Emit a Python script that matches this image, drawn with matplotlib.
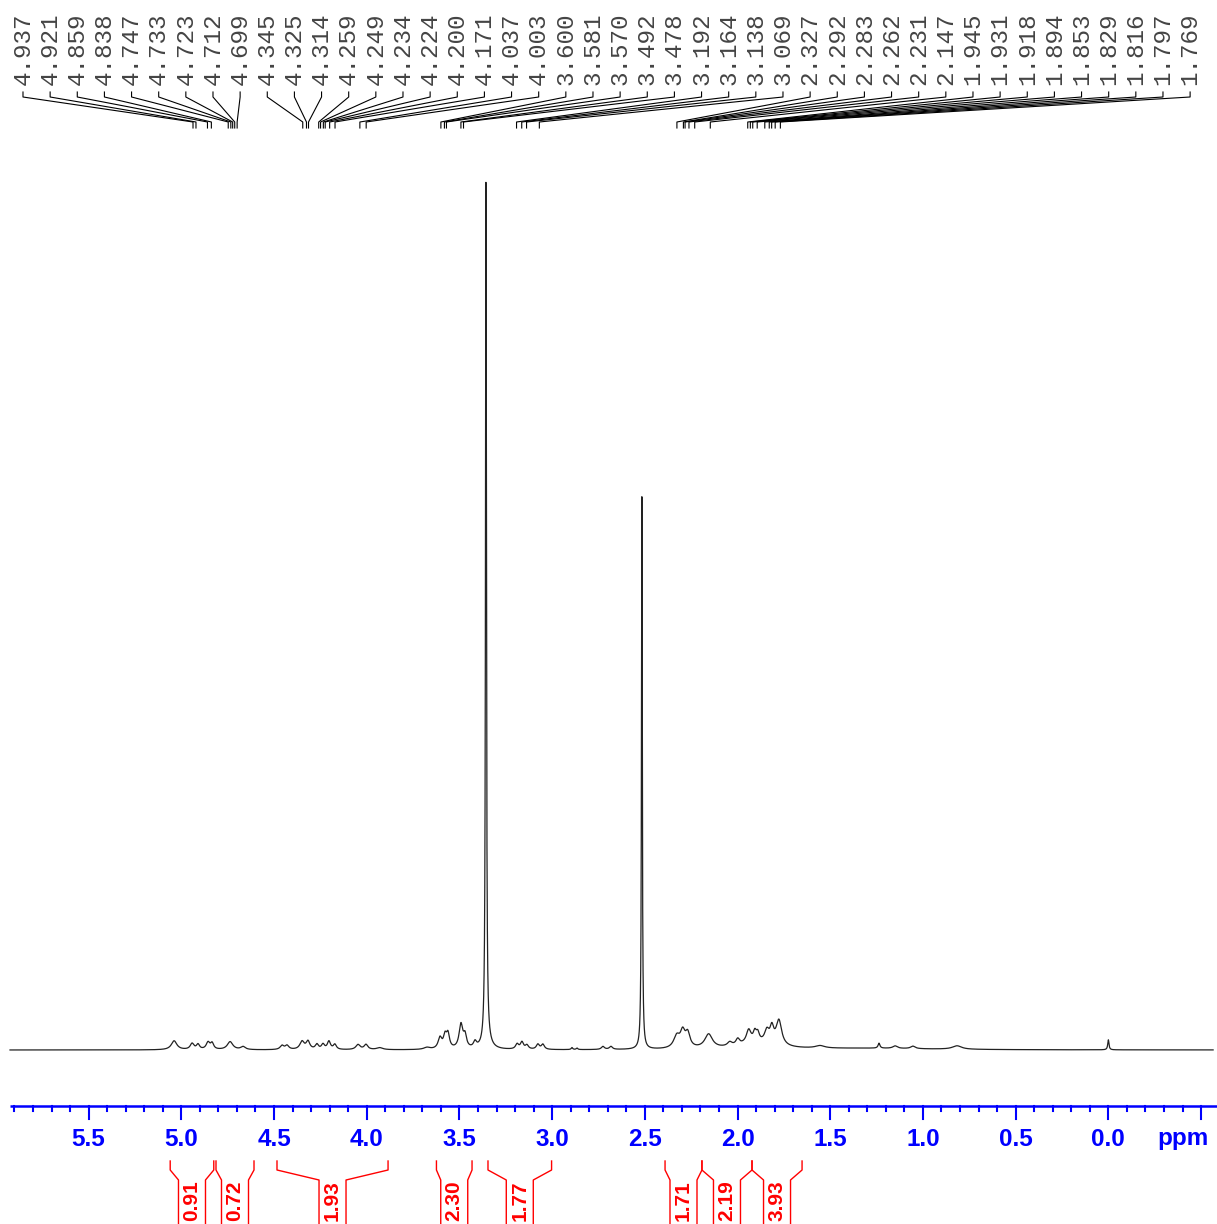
import numpy as np
import matplotlib
matplotlib.use('Agg')
import matplotlib.pyplot as plt

# 1H spectrum: shift (ppm), height (px above baseline), half width (ppm)
peak_shift = [3.357, 3.350, 2.516, 0.000,
              5.039, 4.942, 4.910, 4.856, 4.834, 4.737, 4.667,
              4.457, 4.430, 4.349, 4.317, 4.269, 4.236, 4.204, 4.172,
              4.047, 4.004, 3.930, 3.675, 3.605, 3.578, 3.562, 3.492,
              3.470, 3.416, 3.189, 3.163, 3.136, 3.077, 3.050, 2.893,
              2.866, 2.726, 2.683, 2.328, 2.296, 2.269, 2.156, 2.042,
              1.999, 1.940, 1.907, 1.891, 1.842, 1.815, 1.777, 1.900,
              1.555, 1.237, 1.150, 1.054, 0.816, 1.300]
peak_height = [862, 6, 553, 10,
               9, 6, 5, 7, 6, 8, 3,
               4, 4, 8, 8, 5, 5, 8, 5,
               5, 5, 2, 2, 11, 12, 14, 24,
               12, 6, 5, 7, 4, 5, 5, 2,
               1.5, 3, 3, 12, 15, 14, 14, 4,
               6, 13, 9, 8, 12, 15, 25, 6,
               2.5, 5, 2.5, 2.5, 3.5, 1.5]
peak_width = [0.003, 0.025, 0.0026, 0.004,
              0.018, 0.012, 0.010, 0.012, 0.010, 0.018, 0.015,
              0.012, 0.012, 0.014, 0.012, 0.010, 0.010, 0.010, 0.010,
              0.014, 0.012, 0.020, 0.020, 0.012, 0.010, 0.010, 0.012,
              0.010, 0.010, 0.010, 0.010, 0.010, 0.010, 0.010, 0.005,
              0.005, 0.010, 0.010, 0.020, 0.015, 0.015, 0.025, 0.015,
              0.012, 0.015, 0.010, 0.010, 0.015, 0.012, 0.018, 0.120,
              0.030, 0.006, 0.015, 0.015, 0.030, 0.400]

# picked peaks printed across the top
pick_ppm = [4.937, 4.921, 4.859, 4.838, 4.747, 4.733, 4.723, 4.712, 4.699,
            4.345, 4.325, 4.314, 4.259, 4.249, 4.234, 4.224, 4.200, 4.171,
            4.037, 4.003, 3.600, 3.581, 3.570, 3.492, 3.478, 3.192, 3.164,
            3.138, 3.069, 2.327, 2.292, 2.283, 2.262, 2.231, 2.147, 1.945,
            1.931, 1.918, 1.894, 1.853, 1.829, 1.816, 1.797, 1.769]

# integral regions
int_start = [5.060, 4.813, 4.484, 3.624, 3.346, 2.391, 2.192, 1.922]
int_end = [4.825, 4.608, 3.885, 3.432, 3.003, 2.192, 1.922, 1.652]
int_value = ['0.91', '0.72', '1.93', '2.30', '1.77', '1.71', '2.19', '3.93']

tick_labels = ['5.5', '5.0', '4.5', '4.0', '3.5', '3.0', '2.5', '2.0', '1.5', '1.0', '0.5', '0.0']

BLUE = '#0000ff'
RED = '#ff0000'


def spectrum(ppm):
    y = np.zeros_like(ppm)
    for s, h, w in zip(peak_shift, peak_height, peak_width):
        y += h * w ** 2 / (w ** 2 + (ppm - s) ** 2)
    return y


fig = plt.figure(figsize=(12.17, 12.24), dpi=100)
ax = fig.add_axes([0, 0, 1, 1])
ax.set_xlim(5.978, -0.586)
ax.set_ylim(-174, 1050)
ax.axis('off')

# spectrum trace
ppm = np.linspace(5.924, -0.565, 30000)
ax.plot(ppm, spectrum(ppm), color='#222222', lw=0.9)

# ppm axis
ax.plot([5.924, -0.59], [-56, -56], color=BLUE, lw=1.8, solid_capstyle='butt')
ticks = np.round(np.arange(-0.5, 5.95, 0.1), 1)
for t in ticks:
    major = abs(t * 2 - round(t * 2)) < 1e-6
    ax.plot([t, t], [-56, -69 if major else -61], color=BLUE, lw=1.5)
for lab in tick_labels:
    ax.text(float(lab), -89, lab, color=BLUE, fontsize=17.5, fontweight='bold',
            family='Liberation Sans', ha='center', va='center')
ax.text(-0.40, -89, 'ppm', color=BLUE, fontsize=17.5, fontweight='bold',
        family='Liberation Sans', ha='center', va='center')

# peak pick labels with leaders
label_x = np.linspace(5.854, -0.441, len(pick_ppm))
for lx, p in zip(label_x, pick_ppm):
    ax.text(lx, 965, '%.3f' % p, rotation=90, ha='center', va='bottom',
            family='Liberation Mono', fontsize=17.5, color='#444444')
    ax.plot([lx, lx, p, p], [958, 953, 928, 922], color='black', lw=0.8)

# integrals
half = 13.5 / 185.4
for a, b, v in zip(int_start, int_end, int_value):
    c = (a + b) / 2
    ax.plot([a, a, c + half, c + half], [-111, -120, -130, -180], color=RED, lw=1.0)
    ax.plot([b, b, c - half, c - half], [-111, -120, -130, -180], color=RED, lw=1.0)
    ax.text(c, -151, v, rotation=90, ha='center', va='center', color=RED,
            fontsize=15, fontweight='bold', family='Liberation Sans')

fig.savefig('out.png', dpi=100)
